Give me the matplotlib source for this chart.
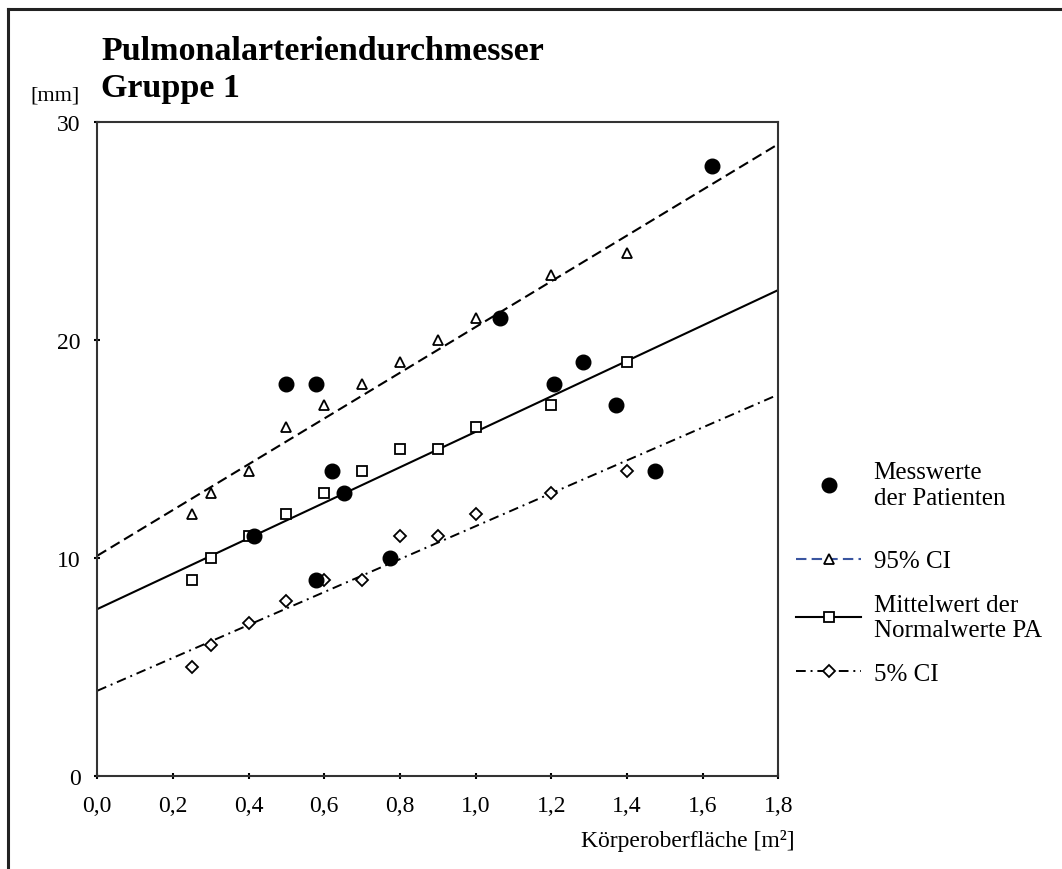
import matplotlib
matplotlib.use('Agg')
import matplotlib.pyplot as plt
from matplotlib.lines import Line2D

plt.rcParams['font.family'] = ['Liberation Serif', 'DejaVu Serif']

# Messwerte der Patienten
pat_x = [0.415, 0.50, 0.577, 0.579, 0.62, 0.653, 0.773, 1.064, 1.207, 1.284, 1.37, 1.475, 1.624]
pat_y = [11, 18, 18, 9, 14, 13, 10, 21, 18, 19, 17, 14, 28]

# Normalwerte (Stuetzpunkte)
norm_x = [0.25, 0.3, 0.4, 0.5, 0.6, 0.7, 0.8, 0.9, 1.0, 1.2, 1.4]
ci95_y = [12, 13, 14, 16, 17, 18, 19, 20, 21, 23, 24]
mean_y = [9, 10, 11, 12, 13, 14, 15, 15, 16, 17, 19]
ci5_y = [5, 6, 7, 8, 9, 9, 11, 11, 12, 13, 14]

# Regressionslinien (Werte bei x = 0 und x = 1,8)
fit_x = [0.0, 1.8]
ci95_fit = [10.1, 29.0]
mean_fit = [7.65, 22.3]
ci5_fit = [3.9, 17.5]

xticks = [0.0, 0.2, 0.4, 0.6, 0.8, 1.0, 1.2, 1.4, 1.6, 1.8]
xtick_labels = ['0,0', '0,2', '0,4', '0,6', '0,8', '1,0', '1,2', '1,4', '1,6', '1,8']
yticks = [0, 10, 20, 30]

W, H = 1062, 870
fig = plt.figure(figsize=(W / 100, H / 100), dpi=100)
ax = fig.add_axes([97.3 / W, 1 - 776.7 / H, (778.3 - 97.3) / W, (776.7 - 123.3) / H])

dash95 = (5, 2.5)
dashdot = (5, 2.5, 1, 2.5)

ax.plot(fit_x, ci95_fit, color='black', lw=1.5, dashes=dash95)
ax.plot(fit_x, mean_fit, color='black', lw=1.5)
ax.plot(fit_x, ci5_fit, color='black', lw=1.4, dashes=dashdot)

mk = dict(linestyle='none', markerfacecolor='white', markeredgecolor='black', markeredgewidth=1.3)
ax.plot(norm_x, ci95_y, marker='^', ms=7, **mk)
ax.plot(norm_x, mean_y, marker='s', ms=6.5, **mk)
ax.plot(norm_x, ci5_y, marker='D', ms=6, **mk)
ax.plot(pat_x, pat_y, 'o', color='black', ms=10.5, linestyle='none')

ax.set_xlim(0, 1.8)
ax.set_ylim(0, 30)
ax.set_xticks(xticks)
ax.set_xticklabels(xtick_labels)
ax.set_yticks(yticks)
ax.tick_params(direction='inout', length=4, width=1.5, labelsize=17, colors='black')
ax.tick_params(axis='x', pad=12)
ax.tick_params(axis='y', pad=10)
for s in ax.spines.values():
    s.set_linewidth(1.5)
    s.set_color('#333333')

# Titel und Achsenbeschriftungen
fig.text(101 / W, 1 - 60 / H, 'Pulmonalarteriendurchmesser', fontsize=24.5, fontweight='bold', va='baseline', ha='left')
fig.text(101 / W, 1 - 97 / H, 'Gruppe 1', fontsize=24.5, fontweight='bold', va='baseline', ha='left')
fig.text(80 / W, 1 - 100 / H, '[mm]', fontsize=16, va='baseline', ha='right')
fig.text(795 / W, 1 - 847 / H, 'Körperoberfläche [m²]', fontsize=17, va='baseline', ha='right')

# Legende
leg_kw = dict(frameon=False, fontsize=18, handlelength=2.6, handletextpad=0.5,
              borderpad=0, borderaxespad=0, numpoints=1)
h_pat = Line2D([], [], linestyle='none', marker='o', color='black', ms=10.5)
fig.legend([h_pat], ['Messwerte\nder Patienten'], loc='center left',
           bbox_to_anchor=(796 / W, 1 - 486 / H), **leg_kw)

handles = [
    Line2D([], [], color='#3A55A0', lw=1.5, dashes=dash95, marker='^', ms=7,
           markerfacecolor='white', markeredgecolor='black', markeredgewidth=1.3),
    Line2D([], [], color='black', lw=1.5, marker='s', ms=6.5,
           markerfacecolor='white', markeredgecolor='black', markeredgewidth=1.3),
    Line2D([], [], color='black', lw=1.4, dashes=dashdot, marker='D', ms=6,
           markerfacecolor='white', markeredgecolor='black', markeredgewidth=1.3),
]
labels = ['95% CI', 'Mittelwert der\nNormalwerte PA', '5% CI']
fig.legend(handles, labels, loc='upper left', bbox_to_anchor=(796 / W, 1 - 551 / H),
           labelspacing=0.85, **leg_kw)

# Rahmen
fig.add_artist(Line2D([8 / W, 8 / W], [0, 1 - 10 / H], color='#222222', lw=2.2))
fig.add_artist(Line2D([8 / W, 1], [1 - 10 / H, 1 - 10 / H], color='#222222', lw=2.2))

fig.savefig('out.png', dpi=100)
